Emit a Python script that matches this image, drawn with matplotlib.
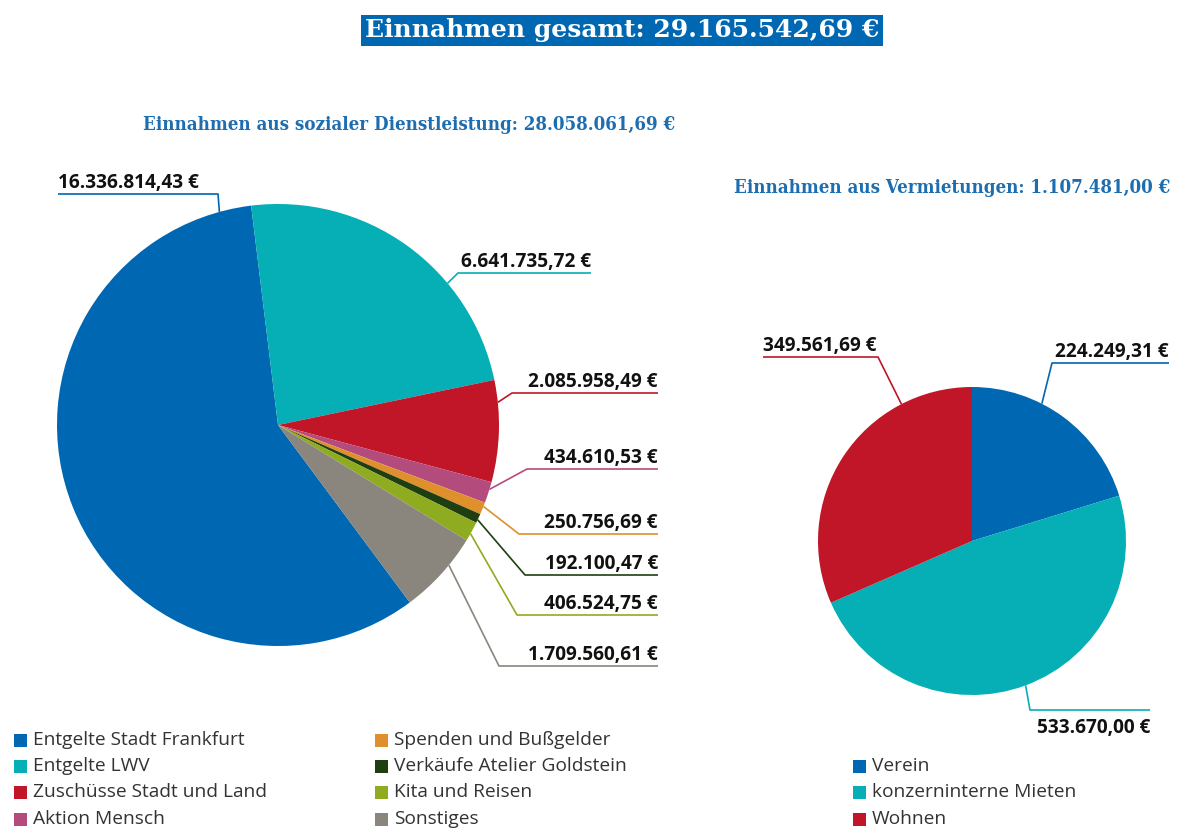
import numpy as np, matplotlib; matplotlib.use("Agg")
import matplotlib.pyplot as plt
from matplotlib.patches import Rectangle
from matplotlib import font_manager as fm

plt.rcParams.update({"font.family": ["Open Sans", "DejaVu Sans"], "figure.facecolor": "white"})

soz_labels = ["Entgelte Stadt Frankfurt", "Entgelte LWV", "Zuschüsse Stadt und Land", "Aktion Mensch",
              "Spenden und Bußgelder", "Verkäufe Atelier Goldstein", "Kita und Reisen", "Sonstiges"]
soz_values = [16336814.43, 6641735.72, 2085958.49, 434610.53, 250756.69, 192100.47, 406524.75, 1709560.61]
soz_colors = ["#0067b3", "#06aeb5", "#c01628", "#b34b7c", "#df902d", "#1f3f12", "#8fab20", "#8a857d"]
verm_labels = ["Verein", "konzerninterne Mieten", "Wohnen"]
verm_values = [224249.31, 533670.00, 349561.69]
verm_colors = ["#0067b3", "#06aeb5", "#c01628"]

W, H = 1200, 840
def Y(y): return H - y
def eur(v): return f"{v:,.2f}".replace(",", "X").replace(".", ",").replace("X", ".") + " €"

# slab-ish headings; condensed cut if the system has it
names = {f.name for f in fm.fontManager.ttflist}
COND = "DejaVu Serif Condensed" in names or any(
    f.name == "DejaVu Serif" and f.stretch == "condensed" for f in fm.fontManager.ttflist)
SLAB = ["DejaVu Serif"]
STRETCH = "condensed" if COND else "normal"
SUB_FS = 13.4 if COND else 12
BLUE_T = "#1d6db1"
VAL_FS = 13.7

fig = plt.figure(figsize=(12, 8.4), dpi=100)
ax = fig.add_axes([0, 0, 1, 1])

# left pie: (center x, y), radius in pixels
wl, _ = ax.pie(soz_values, colors=soz_colors, startangle=306.6, counterclock=False,
               center=(278, Y(425)), radius=221, frame=True, wedgeprops=dict(linewidth=0))
wr, _ = ax.pie(verm_values, colors=verm_colors, startangle=90, counterclock=False,
               center=(972, Y(541)), radius=154, frame=True, wedgeprops=dict(linewidth=0))

# label layout: t along wedge, elbow x/y, line end x, text above/below
lay_l = [(0.04, 218, 194, 58, "above"), (0.33, 458, 273, 591, "above"), (0.78, 512, 393, 658, "above"),
         (0.65, 527, 469, 658, "above"), (0.67, 519, 534, 658, "above"), (0.35, 525, 575, 658, "above"),
         (0.39, 517, 615, 658, "above"), (0.64, 499, 666, 658, "above")]
lay_r = [(0.63, 1052, 363, 1169, "above"), (0.5, 1030, 710, 1150, "below"), (0.24, 878, 357, 763, "above")]

def connect(wedges, values, colors, lay):
    for w, v, c, (t, ex, ey, lx, pos) in zip(wedges, values, colors, lay):
        a = np.deg2rad(w.theta1 + t * (w.theta2 - w.theta1))
        cx, cy = w.center
        px, py = cx + w.r * np.cos(a), cy + w.r * np.sin(a)
        ax.plot([px, ex, lx], [py, Y(ey), Y(ey)], color=c, lw=1.2, solid_capstyle="butt")
        ha = "left" if lx < ex else "right"
        if pos == "above":
            ax.text(lx, Y(ey - 6), eur(v), ha=ha, va="baseline", fontsize=VAL_FS, fontweight="bold", color="#111111")
        else:
            ax.text(max(lx, ex), Y(ey + 23), eur(v), ha="right", va="baseline", fontsize=VAL_FS,
                    fontweight="bold", color="#111111")

connect(wl, soz_values, soz_colors, lay_l)
connect(wr, verm_values, verm_colors, lay_r)

# titles
tot = sum(soz_values) + sum(verm_values)
ax.text(622, Y(37), "Einnahmen gesamt: " + eur(tot), ha="center", va="baseline", fontsize=18,
        fontweight="bold", color="white", family=SLAB,
        bbox=dict(boxstyle="square,pad=0.14", fc="#0067b3", ec="none"))
ax.text(143, Y(130), "Einnahmen aus sozialer Dienstleistung: " + eur(sum(soz_values)), ha="left",
        va="baseline", fontsize=SUB_FS, fontweight="bold", color=BLUE_T, family=SLAB, fontstretch=STRETCH)
ax.text(1170, Y(193), "Einnahmen aus Vermietungen: " + eur(sum(verm_values)), ha="right",
        va="baseline", fontsize=SUB_FS, fontweight="bold", color=BLUE_T, family=SLAB, fontstretch=STRETCH)

# legends
def legend(labels, colors, x0, rows):
    for lab, c, y in zip(labels, colors, rows):
        ax.add_patch(Rectangle((x0, Y(y) - 6.5), 13, 13, fc=c, ec="none"))
        ax.text(x0 + 19, Y(y), lab, ha="left", va="center", fontsize=13.8, color="#333333")

rows = [740, 766, 792, 819]
legend(soz_labels[:4], soz_colors[:4], 14, rows)
legend(soz_labels[4:], soz_colors[4:], 375, rows)
legend(verm_labels, verm_colors, 853, rows[1:])

ax.set_xlim(0, W); ax.set_ylim(0, H); ax.set_aspect("equal"); ax.axis("off")
fig.savefig("out.png", dpi=100)
